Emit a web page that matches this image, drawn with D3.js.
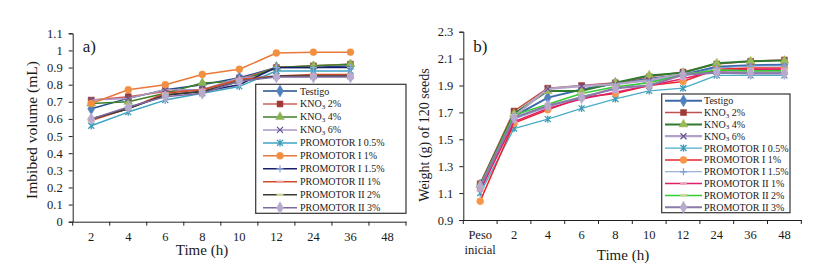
<!DOCTYPE html>
<html>
<head>
<style>
  body, html { margin: 0; padding: 0; background: #fff; }
  svg text { font-family: "Liberation Serif", "Times New Roman", serif; fill: #1a1a1a; }
</style>
</head>
<body>
<svg id="svg" width="822" height="268"></svg>
<script src="https://cdn.jsdelivr.net/npm/d3@7"></script>
<script>
  // ---- data ----
  const seriesNames = ['Testigo', 'KNO3 2%', 'KNO3 4%', 'KNO3 6%', 'PROMOTOR I 0.5%', 'PROMOTOR I 1%',
    'PROMOTOR I 1.5%', 'PROMOTOR II 1%', 'PROMOTOR II 2%', 'PROMOTOR II 3%']

  const hoursA = ['2', '4', '6', '8', '10', '12', '24', '36', '48']
  const hoursB = ['Peso inicial', '2', '4', '6', '8', '10', '12', '24', '36', '48']
  const ticksA = [0, 0.1, 0.2, 0.3, 0.4, 0.5, 0.6, 0.7, 0.8, 0.9, 1, 1.1]
  const ticksB = [0.9, 1.1, 1.3, 1.5, 1.7, 1.9, 2.1, 2.3]

  // imbibed volume (mL), one row per series, hours 2..36 (no 48 h reading)
  const imbibedVolume = [
    [0.66, 0.72, 0.77, 0.80, 0.84, 0.90, 0.90, 0.91],
    [0.71, 0.73, 0.76, 0.77, 0.83, 0.90, 0.91, 0.92],
    [0.69, 0.70, 0.75, 0.81, 0.82, 0.90, 0.91, 0.92],
    [0.71, 0.72, 0.77, 0.77, 0.84, 0.85, 0.85, 0.85],
    [0.56, 0.64, 0.71, 0.75, 0.79, 0.88, 0.88, 0.88],
    [0.69, 0.77, 0.80, 0.86, 0.89, 0.985, 0.99, 0.99],
    [0.60, 0.66, 0.74, 0.76, 0.80, 0.90, 0.90, 0.90],
    [0.59, 0.66, 0.75, 0.77, 0.83, 0.85, 0.86, 0.86],
    [0.60, 0.66, 0.74, 0.76, 0.82, 0.85, 0.85, 0.85],
    [0.60, 0.67, 0.73, 0.75, 0.82, 0.845, 0.845, 0.845]
  ]

  // weight (g) of 120 seeds, Peso inicial then 2..48 h
  const seedWeight = [
    [1.16, 1.67, 1.81, 1.87, 1.915, 1.95, 1.98, 2.04, 2.05, 2.055],
    [1.17, 1.71, 1.88, 1.90, 1.92, 1.965, 2.00, 2.06, 2.08, 2.09],
    [1.16, 1.69, 1.86, 1.86, 1.92, 1.975, 1.995, 2.065, 2.08, 2.085],
    [1.15, 1.67, 1.875, 1.895, 1.91, 1.94, 1.985, 2.00, 2.00, 2.00],
    [1.10, 1.58, 1.65, 1.73, 1.80, 1.86, 1.88, 1.975, 1.975, 1.975],
    [1.04, 1.62, 1.72, 1.81, 1.84, 1.90, 1.93, 2.02, 2.03, 2.03],
    [1.12, 1.65, 1.74, 1.82, 1.87, 1.93, 1.97, 2.03, 2.045, 2.045],
    [1.12, 1.63, 1.73, 1.80, 1.85, 1.90, 1.95, 2.01, 2.02, 2.02],
    [1.15, 1.68, 1.76, 1.84, 1.89, 1.92, 1.98, 2.015, 2.01, 2.01],
    [1.15, 1.66, 1.75, 1.81, 1.88, 1.90, 1.98, 1.995, 1.99, 1.99]
  ]

  // ---- styles ----
  const styleA = [
    { line: '#1F4E8C', marker: '#4F81BD', shape: 'diamond', w: 1.5 },
    { line: '#D0605D', marker: '#9E3B38', shape: 'square', w: 1.5 },
    { line: '#3F7F2A', marker: '#8DB255', shape: 'triangle', w: 1.5 },
    { line: '#A897C4', marker: '#6A5290', shape: 'x', w: 1.5 },
    { line: '#3FA3C3', marker: '#3A9AB8', shape: 'asterisk', w: 1.5 },
    { line: '#E9793A', marker: '#F09040', shape: 'circle', w: 1.5 },
    { line: '#1A1F6B', marker: '#8FAADC', shape: 'plus', w: 1.5 },
    { line: '#D04A28', marker: '#E6A0A0', shape: 'dash', w: 1.5 },
    { line: '#3A3A2E', marker: '#C3D69B', shape: 'dash', w: 1.5 },
    { line: '#7E6AA0', marker: '#B8A9CF', shape: 'diamond', w: 1.5 }
  ]
  const styleB = [
    { line: '#3D6BAA', marker: '#4F81BD', shape: 'diamond', w: 2 },
    { line: '#C0504D', marker: '#9E3B38', shape: 'square', w: 1.5 },
    { line: '#2E7A2E', marker: '#9BBB59', shape: 'triangle', w: 2 },
    { line: '#B3A2C7', marker: '#6A5290', shape: 'x', w: 2.2 },
    { line: '#4BACC6', marker: '#3A9AB8', shape: 'asterisk', w: 1.3 },
    { line: '#E8262B', marker: '#F79646', shape: 'circle', w: 1.5 },
    { line: '#7F9FCF', marker: '#7F9FCF', shape: 'plus', w: 1 },
    { line: '#E01F6A', marker: '#E8A0B8', shape: 'dash', w: 1.5 },
    { line: '#33CC33', marker: '#C3D69B', shape: 'dash', w: 1.5 },
    { line: '#8A7AA8', marker: '#B8A9CF', shape: 'diamond', w: 2.2 }
  ]

  const svg = d3.select('#svg')

  function drawMarker(g, shape, color) {
    const sym = { diamond: [d3.symbolDiamond, 42], square: [d3.symbolSquare, 36],
      triangle: [d3.symbolTriangle, 34], circle: [d3.symbolCircle, 38] }
    if (sym[shape]) {
      g.append('path').attr('d', d3.symbol(sym[shape][0], sym[shape][1])())
        .attr('fill', color).attr('stroke', color).attr('stroke-width', 0.5)
    } else if (shape === 'dash') {
      g.append('rect').attr('x', -3.5).attr('y', -1.2).attr('width', 7).attr('height', 2.4).attr('fill', color)
    } else {
      const paths = {
        x: 'M-3,-3L3,3M-3,3L3,-3',
        asterisk: 'M-3,-3L3,3M-3,3L3,-3M0,-3.6L0,3.6',
        plus: 'M-3.5,0L3.5,0M0,-3.5L0,3.5'
      }
      g.append('path').attr('d', paths[shape]).attr('fill', 'none')
        .attr('stroke', color).attr('stroke-width', 1.3)
    }
  }

  function seriesLabel(sel, name) {
    if (name.startsWith('KNO3')) {
      sel.append('tspan').text('KNO')
      sel.append('tspan').text('3').attr('font-size', '7px').attr('dy', 1.5)
      sel.append('tspan').text(name.slice(4)).attr('dy', -1.5)
    } else {
      sel.text(name)
    }
  }

  function drawChart(cfg) {
    const x = d3.scaleBand().domain(cfg.cats).range([cfg.left, cfg.right]).padding(0)
    const y = d3.scaleLinear().domain(cfg.yDomain).range([cfg.bottom, cfg.top])
    const g = svg.append('g')

    // y axis
    const yAxis = g.append('g').attr('transform', `translate(${cfg.left},0)`)
      .call(d3.axisLeft(y).tickValues(cfg.yTicks).tickSize(4).tickPadding(6)
        .tickFormat(d => cfg.fmt(d)))
    // x axis (labels centred in bands, tick marks at band edges)
    const xAxis = g.append('g').attr('transform', `translate(0,${cfg.bottom})`)
      .call(d3.axisBottom(x).tickSize(0).tickPadding(10))
    xAxis.selectAll('.tick text').each(function (d) {
      const t = d3.select(this)
      const words = d.split(' ')
      if (words.length > 1) {
        t.text(null)
        words.forEach((w, i) => t.append('tspan').attr('x', 0).attr('dy', i === 0 ? '0.71em' : '1.2em').text(w))
      }
    })
    const edges = cfg.cats.map(c => x(c)).concat([x.range()[1]])
    xAxis.selectAll('.edge').data(edges).enter().append('line')
      .attr('x1', d => d).attr('x2', d => d).attr('y1', 0).attr('y2', 4)
      .attr('stroke', '#222')
    ;[yAxis, xAxis].forEach(a => {
      a.select('.domain').attr('stroke', '#222')
      a.selectAll('.tick line').attr('stroke', '#222')
      a.selectAll('text').attr('font-family', '"Liberation Serif", serif')
        .attr('font-size', '12.5px').attr('fill', '#1a1a1a')
    })

    // lines + markers
    const line = d3.line().x((d, i) => x(cfg.cats[i]) + x.bandwidth() / 2).y(d => y(d))
    cfg.values.forEach((vals, s) => {
      const st = cfg.styles[s]
      g.append('path').attr('d', line(vals)).attr('fill', 'none')
        .attr('stroke', st.line).attr('stroke-width', st.w).attr('stroke-linejoin', 'round')
      vals.forEach((v, i) => {
        const m = g.append('g').attr('transform', `translate(${x(cfg.cats[i]) + x.bandwidth() / 2},${y(v)})`)
        drawMarker(m, st.shape, st.marker)
      })
    })

    // panel letter
    g.append('text').attr('x', cfg.left + 10).attr('y', 51.5).attr('font-size', '17px').text(cfg.letter)

    // axis titles
    g.append('text').attr('x', cfg.xTitleX).attr('y', cfg.xTitleY).attr('text-anchor', 'middle')
      .attr('font-size', '15px').text('Time (h)')
    g.append('text').attr('transform', `translate(${cfg.yTitleX},${cfg.yTitleY}) rotate(-90)`)
      .attr('text-anchor', 'middle').attr('dominant-baseline', 'central')
      .attr('font-size', cfg.yTitleSize).text(cfg.yTitle)

    // legend
    const lg = cfg.legend
    const legend = g.append('g')
    legend.append('rect').attr('x', lg.x).attr('y', lg.y).attr('width', lg.w).attr('height', lg.h)
      .attr('fill', '#fff').attr('stroke', '#333').attr('stroke-width', 1.2)
    seriesNames.forEach((name, i) => {
      const st = cfg.styles[i]
      const ry = lg.row0 + i * lg.dy
      legend.append('line').attr('x1', lg.lx1).attr('x2', lg.lx2).attr('y1', ry).attr('y2', ry)
        .attr('stroke', st.line).attr('stroke-width', st.w)
      drawMarker(legend.append('g').attr('transform', `translate(${(lg.lx1 + lg.lx2) / 2},${ry})`), st.shape, st.marker)
      const t = legend.append('text').attr('x', lg.tx).attr('y', ry + 3.5).attr('font-size', '10px')
      seriesLabel(t, name)
    })
  }

  drawChart({
    cats: hoursA, values: imbibedVolume, styles: styleA,
    left: 72.7, right: 406, top: 33.3, bottom: 221.7,
    yDomain: [0, 1.1], yTicks: ticksA, fmt: d => String(+d.toFixed(1)),
    letter: 'a)', xTitleX: 202, xTitleY: 255,
    yTitle: 'Imbibed volume (mL)', yTitleX: 31, yTitleY: 130, yTitleSize: '15.5px',
    legend: { x: 255.7, y: 84.3, w: 150.3, h: 129, row0: 91, dy: 12.97, lx1: 263, lx2: 297, tx: 300 }
  })

  drawChart({
    cats: hoursB, values: seedWeight, styles: styleB,
    left: 463.3, right: 801.3, top: 31.7, bottom: 220,
    yDomain: [0.9, 2.3], yTicks: ticksB, fmt: d => d.toFixed(1),
    letter: 'b)', xTitleX: 623, xTitleY: 260,
    yTitle: 'Weight (g) of 120 seeds', yTitleX: 424, yTitleY: 135, yTitleSize: '14px',
    legend: { x: 661.7, y: 94, w: 128.3, h: 118.7, row0: 100.7, dy: 11.84, lx1: 665, lx2: 702, tx: 704 }
  })
</script>
</body>
</html>
